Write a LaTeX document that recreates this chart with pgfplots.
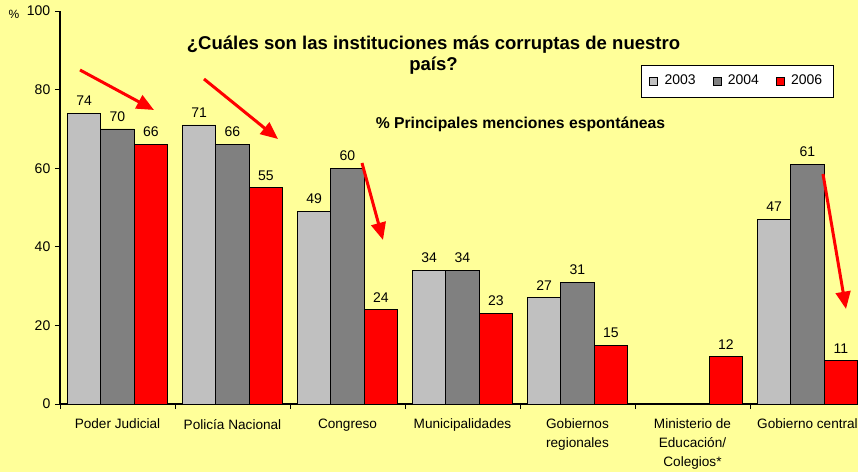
\documentclass[border=0pt]{standalone}
\usepackage{fontspec}
\setmainfont{Liberation Sans}
\usepackage{pgfplots}
\pgfplotsset{compat=1.18}
\usetikzlibrary{arrows.meta}
\definecolor{bgyellow}{HTML}{FFFF99}
\definecolor{c2003}{HTML}{C0C0C0}
\definecolor{c2004}{HTML}{808080}
\definecolor{c2006}{HTML}{FF0000}
\newcommand{\lbl}{\fontsize{10.2}{14}\selectfont}
\pgfplotsset{sqlegend/.style={legend image code/.code={%
  \draw[##1, line width=0.5pt] (0pt,-3pt) rectangle (6pt,3pt);}}}

\begin{document}
\begin{tikzpicture}
\useasboundingbox (0,0) rectangle (643.5pt,354pt);
\clip (0,0) rectangle (643.5pt,354pt);
\fill[bgyellow] (0,0) rectangle (643.5pt,354pt);
\begin{axis}[
  at={(45pt,51pt)}, anchor=south west,
  scale only axis, width=603.75pt, height=294.75pt,
  xmin=-0.5, xmax=6.5, ymin=0, ymax=100,
  axis lines*=left,
  axis line style={black, line width=0.8pt},
  ybar, bar width=0.29,
  xtick={0,...,6},
  xticklabels={Poder Judicial, Policía Nacional, Congreso, Municipalidades,
    Gobiernos\\regionales, Ministerio de\\Educación/\\Colegios*, Gobierno central},
  xticklabel style={align=center, font=\lbl, yshift=-4pt},
  yticklabel style={font=\fontsize{10.5}{14}\selectfont},
  major x tick style={draw=none},
  minor xtick={-0.5,0.5,...,6.5},
  ytick={0,20,...,100},
  tick align=outside,
  major tick length=3.75pt, minor tick length=3.75pt,
  tick style={black, line width=0.6pt},
  /pgf/number format/assume math mode=true,
  legend style={at={(0.7217,0.863)}, anchor=north west, draw=black, fill=white,
    font=\fontsize{10.5}{14}\selectfont, inner xsep=6pt, inner ysep=5.5pt,
    /tikz/every odd column/.append style={column sep=3pt},
    /tikz/every even column/.append style={column sep=10.6pt}},
  legend columns=3,
  every node near coord/.append style={font=\fontsize{10.5}{14}\selectfont, black, yshift=2pt},
]
\addplot[fill=c2003, draw=black, line width=0.6pt, bar shift=-0.29, nodes near coords, sqlegend]
  coordinates {(0,74)(1,71)(2,49)(3,34)(4,27)(6,47)};
\addplot[fill=c2004, draw=black, line width=0.6pt, bar shift=0, nodes near coords, sqlegend]
  coordinates {(0,70)(1,66)(2,60)(3,34)(4,31)(6,61)};
\addplot[fill=c2006, draw=black, line width=0.6pt, bar shift=0.29, nodes near coords, sqlegend]
  coordinates {(0,66)(1,55)(2,24)(3,23)(4,15)(5,12)(6,11)};
\legend{2003,2004,2006}
\end{axis}
% annotations in pixel coordinates of the reference (origin top left)
\begin{scope}[x=0.75pt, y=-0.75pt, yshift=354pt]
  \node[font=\fontsize{9}{10}\selectfont] at (14,14) {\%};
  \node[font=\bfseries\fontsize{13.9}{15.75}\selectfont, align=center] at (433.5,55.5)
    {¿Cuáles son las instituciones más corruptas de nuestro\\país?};
  \node[font=\bfseries\fontsize{11.8}{12}\selectfont] at (520.5,124)
    {\% Principales menciones espontáneas};
  \begin{scope}[red, line width=2.25pt, -{Triangle[length=13pt,width=11pt]}]
    \draw (80,70) -- (154,110);
    \draw (204,79) -- (278,139);
    \draw (362,163) -- (383,240);
    \draw (823,174) -- (846,309);
  \end{scope}
\end{scope}
\end{tikzpicture}
\end{document}
